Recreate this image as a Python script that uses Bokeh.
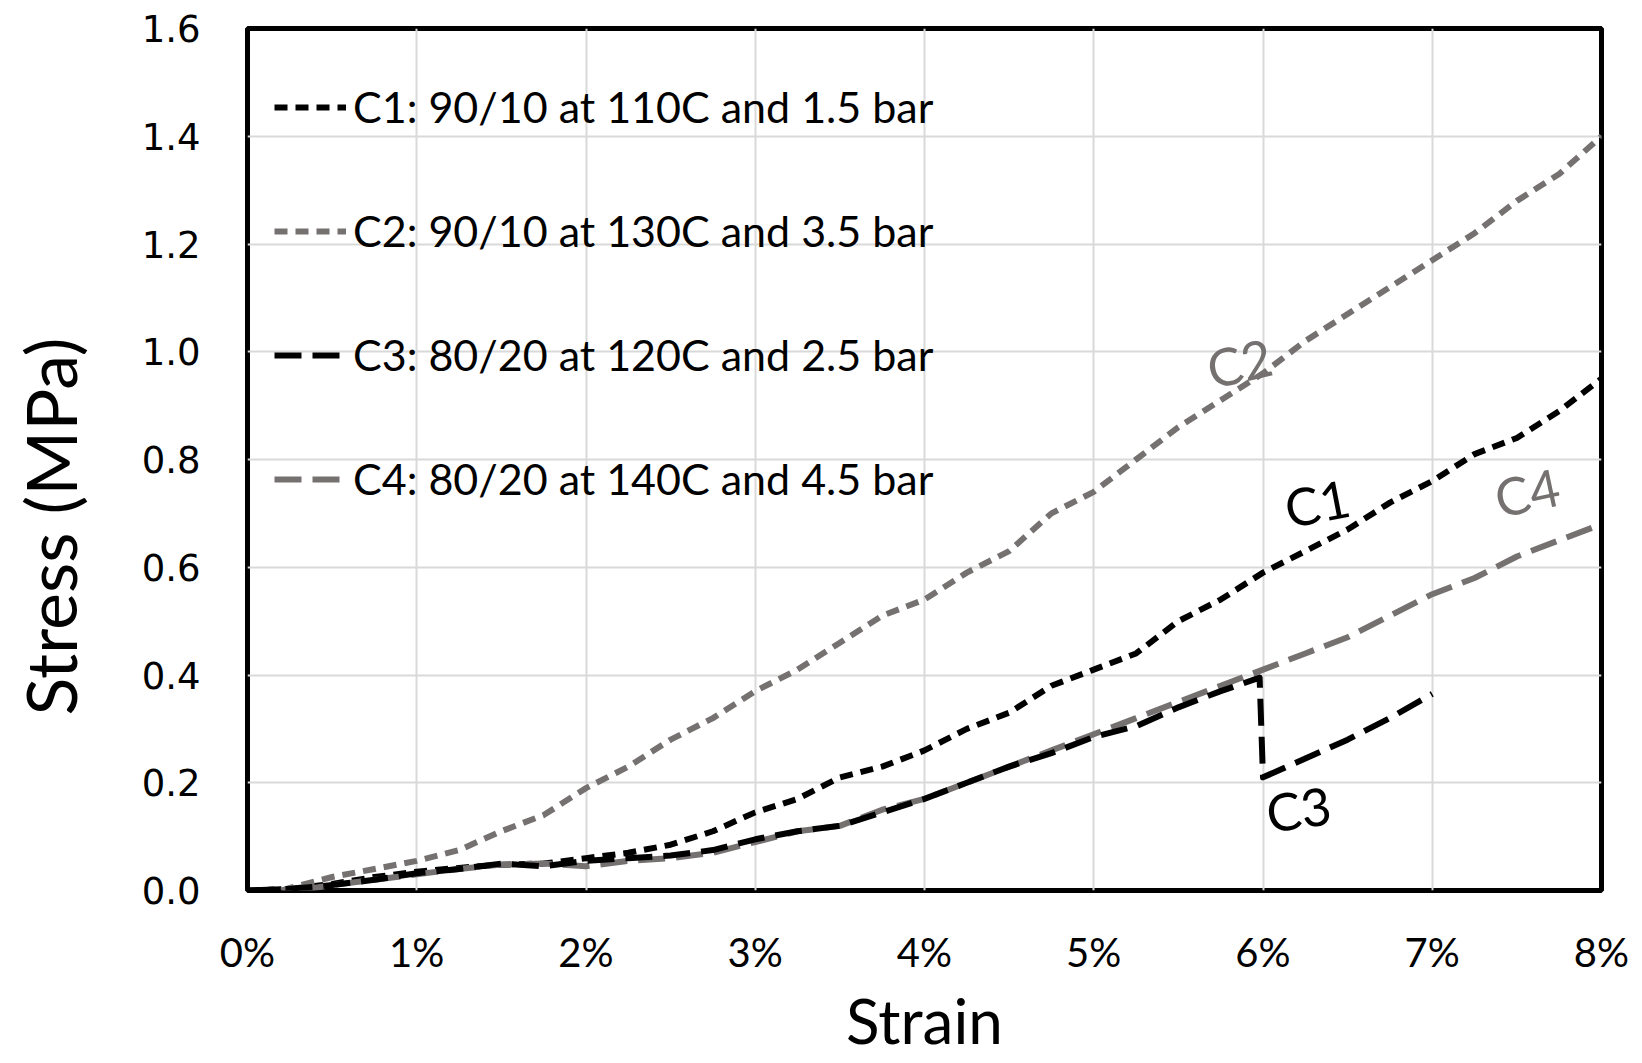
import math
from bokeh.plotting import figure
from bokeh.models import Range1d, FixedTicker, Legend, LegendItem, Label, Title, LinearAxis
from bokeh.embed import file_html
from bokeh.resources import INLINE

# ---------------- data (strain in %, stress in MPa) ----------------
x_ticks = [0, 1, 2, 3, 4, 5, 6, 7, 8]
x_tick_labels = ["0%", "1%", "2%", "3%", "4%", "5%", "6%", "7%", "8%"]
y_ticks = [0.0, 0.2, 0.4, 0.6, 0.8, 1.0, 1.2, 1.4, 1.6]
y_tick_labels = ["0.0", "0.2", "0.4", "0.6", "0.8", "1.0", "1.2", "1.4", "1.6"]

c1_strain = [0, 0.25, 0.5, 0.75, 1.0, 1.25, 1.5, 1.75, 2.0, 2.25, 2.5, 2.75, 3.0, 3.25,
             3.5, 3.75, 4.0, 4.25, 4.5, 4.75, 5.0, 5.25, 5.5, 5.75, 6.0, 6.25, 6.5,
             6.75, 7.0, 7.25, 7.5, 7.75, 8.0]
c1_stress = [0.0, 0.003, 0.012, 0.025, 0.035, 0.042, 0.048, 0.05, 0.06, 0.07, 0.085,
             0.11, 0.145, 0.17, 0.21, 0.23, 0.26, 0.30, 0.33, 0.38, 0.41, 0.44, 0.50,
             0.54, 0.59, 0.63, 0.67, 0.72, 0.76, 0.81, 0.84, 0.89, 0.95]

c2_strain = [0.2, 0.25, 0.5, 0.75, 1.0, 1.25, 1.5, 1.75, 2.0, 2.25, 2.5, 2.75, 3.0, 3.25,
             3.5, 3.75, 4.0, 4.25, 4.5, 4.75, 5.0, 5.25, 5.5, 5.75, 6.0, 6.25, 6.5,
             6.75, 7.0, 7.25, 7.5, 7.75, 8.0]
c2_stress = [0.0, 0.005, 0.025, 0.04, 0.055, 0.075, 0.11, 0.14, 0.19, 0.23, 0.28, 0.32,
             0.37, 0.41, 0.46, 0.51, 0.54, 0.59, 0.63, 0.70, 0.74, 0.80, 0.86, 0.91,
             0.96, 1.02, 1.07, 1.12, 1.17, 1.22, 1.28, 1.33, 1.40]

c3_strain = [0, 0.25, 0.5, 0.75, 1.0, 1.25, 1.5, 1.75, 2.0, 2.25, 2.5, 2.75, 3.0, 3.25,
             3.5, 3.75, 4.0, 4.25, 4.5, 4.75, 5.0, 5.25, 5.5, 5.75, 5.98, 6.0, 6.25,
             6.5, 6.75, 7.0]
c3_stress = [0.0, 0.003, 0.01, 0.02, 0.032, 0.04, 0.05, 0.045, 0.055, 0.06, 0.065,
             0.075, 0.095, 0.11, 0.12, 0.145, 0.17, 0.20, 0.23, 0.255, 0.285, 0.305,
             0.34, 0.37, 0.395, 0.21, 0.245, 0.28, 0.32, 0.365]

c4_strain = [0.3, 0.5, 0.75, 1.0, 1.25, 1.5, 1.75, 2.0, 2.25, 2.5, 2.75, 3.0, 3.25,
             3.5, 3.75, 4.0, 4.25, 4.5, 4.75, 5.0, 5.25, 5.5, 5.75, 6.0, 6.25, 6.5,
             6.75, 7.0, 7.25, 7.5, 7.75, 8.0]
c4_stress = [0.0, 0.01, 0.02, 0.03, 0.04, 0.048, 0.05, 0.045, 0.055, 0.06, 0.07, 0.09,
             0.11, 0.12, 0.15, 0.17, 0.20, 0.23, 0.26, 0.29, 0.32, 0.35, 0.38, 0.41,
             0.44, 0.47, 0.51, 0.55, 0.58, 0.62, 0.65, 0.68]

series_names = ["C1: 90/10 at 110C and 1.5 bar", "C2: 90/10 at 130C and 3.5 bar",
                "C3: 80/20 at 120C and 2.5 bar", "C4: 80/20 at 140C and 4.5 bar"]
curve_tags = ["C1", "C2", "C3", "C4"]

BLACK = "#000000"
GRAY = "#767171"
CAL = "Lato"

p = figure(width=1642, height=1063, output_backend="svg", toolbar_location=None,
           x_range=Range1d(0, 8), y_range=Range1d(0, 1.6),
           min_border_left=247, min_border_right=41, min_border_top=28,
           min_border_bottom=173)
p.background_fill_color = "white"
p.border_fill_color = "white"
p.outline_line_color = BLACK
p.outline_line_width = 5

# axes
p.xaxis.ticker = FixedTicker(ticks=x_ticks)
p.xaxis.major_label_overrides = {t: l for t, l in zip(x_ticks, x_tick_labels)}
p.yaxis.ticker = FixedTicker(ticks=y_ticks)
p.yaxis.major_label_overrides = {t: l for t, l in zip(y_ticks, y_tick_labels)}
for ax in (p.xaxis, p.yaxis):
    ax.axis_line_color = None
    ax.major_tick_line_color = None
    ax.minor_tick_line_color = None
    ax.major_tick_out = 0
    ax.major_tick_in = 0
    ax.minor_tick_out = 0
    ax.minor_tick_in = 0
    ax.major_label_text_color = BLACK
p.xaxis.major_label_text_font = CAL
p.xaxis.major_label_text_font_size = "40px"
p.xaxis.major_label_standoff = 37
p.yaxis.major_label_text_font = "DejaVu Sans"
p.yaxis.major_label_text_font_size = "37px"
p.yaxis.major_label_standoff = 47

p.xaxis.axis_label = "Strain"
p.xaxis.axis_label_text_font = CAL
p.xaxis.axis_label_text_font_size = "62px"
p.xaxis.axis_label_text_font_style = "normal"
p.xaxis.axis_label_text_color = BLACK
p.xaxis.axis_label_standoff = 4

p.xgrid.ticker = FixedTicker(ticks=x_ticks)
p.ygrid.ticker = FixedTicker(ticks=y_ticks)
p.grid.grid_line_color = "#d9d9d9"
p.grid.grid_line_width = 2

# spacer axis (one invisible tick) + y title on the left, below the frame centre as in the original
spacer = LinearAxis(ticker=FixedTicker(ticks=[0.8]), major_label_overrides={0.8: ""},
                    axis_line_color=None, major_tick_line_color="white",
                    minor_tick_line_color=None, major_tick_out=42, major_tick_in=0,
                    minor_tick_out=0, major_label_standoff=0,
                    major_label_text_font_size="1px")
p.add_layout(spacer, "left")
p.add_layout(Title(text="Stress (MPa)", align="left", offset=175, text_font=CAL,
                   text_font_size="70px", text_font_style="normal", text_color=BLACK),
             "left")

# curves
r1 = p.line(c1_strain, c1_stress, line_color=BLACK, line_width=6, line_dash="13 8",
            line_join="round")
r2 = p.line(c2_strain, c2_stress, line_color=GRAY, line_width=6, line_dash="13 8",
            line_join="round")
r4 = p.line(c4_strain, c4_stress, line_color=GRAY, line_width=6, line_dash="27 11",
            line_join="round")
r3 = p.line(c3_strain, c3_stress, line_color=BLACK, line_width=6, line_dash="27 11",
            line_join="round")

legend = Legend(items=[LegendItem(label=series_names[0], renderers=[r1]),
                       LegendItem(label=series_names[1], renderers=[r2]),
                       LegendItem(label=series_names[2], renderers=[r3]),
                       LegendItem(label=series_names[3], renderers=[r4])],
                location=(27, 386), orientation="vertical")
legend.border_line_color = None
legend.background_fill_alpha = 0
legend.label_text_font = CAL
legend.label_text_font_size = "43px"
legend.label_text_color = BLACK
legend.glyph_width = 72
legend.glyph_height = 40
legend.label_height = 40
legend.spacing = 73
legend.padding = 0
legend.margin = 0
legend.label_standoff = 7
p.add_layout(legend)

# curve tags
tag_pos = [(6.32, 0.72), (5.86, 0.98), (6.21, 0.152), (7.56, 0.74)]
tag_col = [BLACK, GRAY, BLACK, GRAY]
tag_ang = [11, 13, 8, 12]
for t, (tx, ty), c, a in zip(curve_tags, tag_pos, tag_col, tag_ang):
    p.add_layout(Label(x=tx, y=ty, text=t, angle=math.radians(a), text_align="center",
                       text_baseline="middle", text_font=CAL, text_font_size="52px",
                       text_color=c))

open("out.html", "w").write(file_html(p, INLINE))
